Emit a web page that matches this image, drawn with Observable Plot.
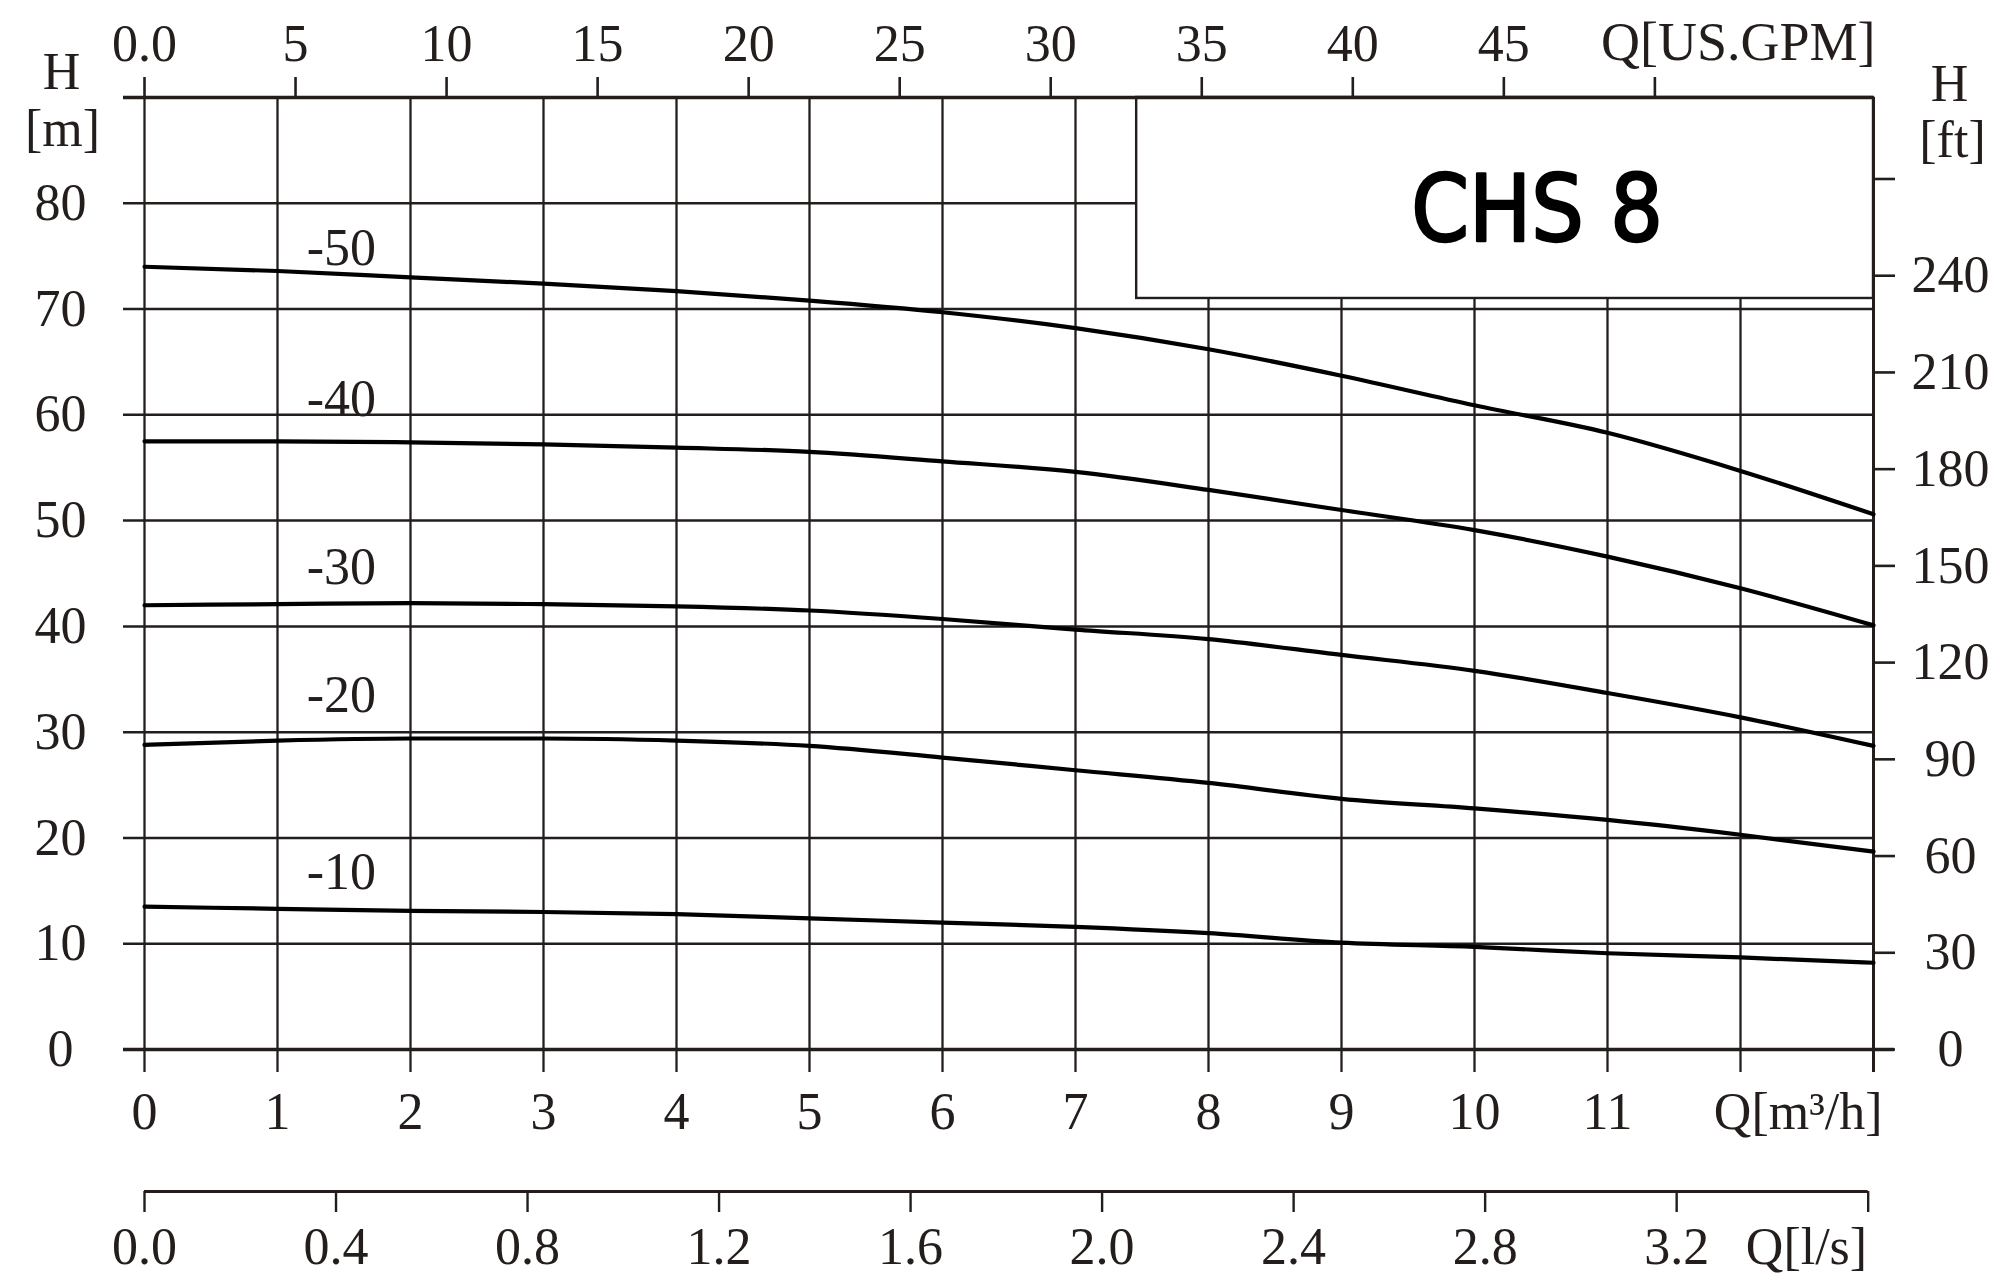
<!DOCTYPE html>
<html>
<head>
<meta charset="utf-8">
<script src="https://cdn.jsdelivr.net/npm/d3@7"></script>
<script src="https://cdn.jsdelivr.net/npm/@observablehq/plot@0.6"></script>
<style>
  html, body { margin: 0; padding: 0; background: #fff; overflow: hidden; }
  #chart svg { display: block; }
</style>
</head>
<body>
<div id="chart"></div>
<script>
// ---- data ----
const flowM3h = [0, 1, 2, 3, 4, 5, 6, 7, 8, 9, 10, 11, 12, 13];
const curveNames = ["-50", "-40", "-30", "-20", "-10"];
const head50 = [74.0, 73.6, 73.0, 72.4, 71.7, 70.8, 69.7, 68.2, 66.2, 63.7, 60.9, 58.3, 54.7, 50.6];
const head40 = [57.5, 57.5, 57.4, 57.2, 56.9, 56.5, 55.6, 54.6, 52.9, 51.0, 49.1, 46.6, 43.6, 40.1];
const head30 = [42.0, 42.1, 42.2, 42.1, 41.9, 41.5, 40.7, 39.7, 38.8, 37.3, 35.8, 33.7, 31.4, 28.7];
const head20 = [28.8, 29.2, 29.4, 29.4, 29.2, 28.7, 27.6, 26.4, 25.2, 23.7, 22.8, 21.7, 20.3, 18.7];
const head10 = [13.5, 13.3, 13.1, 13.0, 12.8, 12.4, 12.0, 11.6, 11.0, 10.1, 9.7, 9.1, 8.7, 8.2];
const curveLabelHead = [75.7, 61.5, 45.6, 33.5, 16.7];

const xTickLabels = ["0", "1", "2", "3", "4", "5", "6", "7", "8", "9", "10", "11"];
const yTicksM = [0, 10, 20, 30, 40, 50, 60, 70, 80];
const ftTicks = [0, 30, 60, 90, 120, 150, 180, 210, 240, 270];
const ftTickLabels = ["0", "30", "60", "90", "120", "150", "180", "210", "240", ""];
const gpmTicks = [0, 5, 10, 15, 20, 25, 30, 35, 40, 45, 50];
const gpmTickLabels = ["0.0", "5", "10", "15", "20", "25", "30", "35", "40", "45", ""];
const lsTicks = [0, 0.4, 0.8, 1.2, 1.6, 2.0, 2.4, 2.8, 3.2, 3.6];
const lsTickLabels = ["0.0", "0.4", "0.8", "1.2", "1.6", "2.0", "2.4", "2.8", "3.2", ""];
const title = "CHS 8";

// unit conversions
const GPM = 0.227125;   // m3/h per US gpm
const LS = 3.6;         // m3/h per l/s
const FT = 0.3048;      // m per ft

// ---- build tidy table ----
const heads = [head50, head40, head30, head20, head10];
const rows = [];
curveNames.forEach((name, k) => flowM3h.forEach((q, i) => rows.push({name, q, h: heads[k][i]})));
const labelRows = curveNames.map((name, k) => ({name, h: curveLabelHead[k]}));

// ---- layout/styles ----
const ink = "#231e1c";
const serif = "'Liberation Serif', 'Times New Roman', Times, serif";
const fs = 52;
const xMax = 13, yMax = 90;
const box = {x1: 7.46, x2: 13, y1: 71.0, y2: 90};

const chart = Plot.plot({
  width: 1995,
  height: 1274,
  marginLeft: 144,
  marginRight: 122,
  marginTop: 97,
  marginBottom: 225,
  x: {domain: [0, xMax], axis: null},
  y: {domain: [0, yMax], axis: null},
  style: {background: "#fff"},
  marks: [
    // vertical grid (extends below the zero line as ticks)
    Plot.ruleX(flowM3h, {x: d => d, y1: yMax, y2: 0, insetBottom: -23, stroke: ink, strokeWidth: 2.3}),
    // horizontal grid (extends left as ticks)
    Plot.ruleY(yTicksM.filter(d => d > 0), {y: d => d, x1: 0, x2: xMax, insetLeft: -21, stroke: ink, strokeWidth: 2.5}),
    // title box
    Plot.rect([box], {x1: "x1", x2: "x2", y1: "y1", y2: "y2", fill: "#fff", stroke: ink, strokeWidth: 2.4}),
    Plot.text([title], {x: 10.47, y: 79.25, text: d => d, fontFamily: "'DejaVu Sans Condensed', 'DejaVu Sans', sans-serif",
      fontSize: 92, fill: "#000", stroke: "#000", strokeWidth: 2.4}),
    // zero line and top line
    Plot.ruleY([0], {x1: 0, x2: xMax, insetLeft: -21, insetRight: -21, stroke: ink, strokeWidth: 3.4}),
    Plot.ruleY([yMax], {x1: 0, x2: xMax, insetLeft: -21, stroke: ink, strokeWidth: 3.4}),
    // right axis line
    Plot.ruleX([xMax], {y1: yMax, y2: 0, insetBottom: -23, stroke: ink, strokeWidth: 3}),
    // top GPM ticks
    Plot.ruleX(gpmTicks, {x: d => d * GPM, y1: yMax, y2: yMax, insetTop: -20, stroke: ink, strokeWidth: 2.6}),
    // right ft ticks
    Plot.ruleY(ftTicks, {y: d => d * FT, x1: xMax, x2: xMax, insetRight: -22, stroke: ink, strokeWidth: 2.6}),
    // l/s axis
    Plot.ruleY([0], {x1: 0, x2: 3.6 * LS, dy: 142, stroke: ink, strokeWidth: 3}),
    Plot.ruleX(lsTicks, {x: d => d * LS, y1: 0, y2: 0, dy: 142, insetBottom: -21, stroke: ink, strokeWidth: 2.4}),
    // curves
    Plot.line(rows, {x: "q", y: "h", z: "name", curve: "monotone-x", stroke: "#000", strokeWidth: 4.2}),
    Plot.text(labelRows, {x: 1.48, y: "h", text: "name", fontFamily: serif, fontSize: fs, fill: ink}),
    // left tick labels
    Plot.text(yTicksM, {x: 0, y: d => d, dx: -84, text: d => String(d), fontFamily: serif, fontSize: fs, fill: ink}),
    Plot.text(["H"], {x: 0, y: yMax, dx: -83, dy: -25, text: d => d, fontFamily: serif, fontSize: fs, fill: ink}),
    Plot.text(["[m]"], {x: 0, y: yMax, dx: -82, dy: 32, text: d => d, fontFamily: serif, fontSize: fs, fill: ink}),
    // right tick labels
    Plot.text(ftTicks, {x: xMax, y: d => d * FT, dx: 77, text: (d, i) => ftTickLabels[i], fontFamily: serif, fontSize: fs, fill: ink}),
    Plot.text(["H"], {x: xMax, y: yMax, dx: 76, dy: -13, text: d => d, fontFamily: serif, fontSize: fs, fill: ink}),
    Plot.text(["[ft]"], {x: xMax, y: yMax, dx: 79, dy: 43, text: d => d, fontFamily: serif, fontSize: fs, fill: ink}),
    // bottom m3/h labels
    Plot.text(xTickLabels, {x: (d, i) => flowM3h[i], y: 0, dy: 63, text: d => d, fontFamily: serif, fontSize: fs, fill: ink}),
    Plot.text(["Q[m³/h]"], {x: xMax, y: 0, dx: 9, dy: 63, text: d => d, textAnchor: "end", fontFamily: serif, fontSize: fs, fill: ink}),
    // top GPM labels
    Plot.text(gpmTicks, {x: d => d * GPM, y: yMax, dy: -53, text: (d, i) => gpmTickLabels[i], fontFamily: serif, fontSize: fs, fill: ink}),
    Plot.text(["Q[US.GPM]"], {x: xMax, y: yMax, dx: 2, dy: -55, text: d => d, textAnchor: "end", fontFamily: serif, fontSize: 54, fill: ink}),
    // l/s labels
    Plot.text(lsTicks, {x: d => d * LS, y: 0, dy: 198, text: (d, i) => lsTickLabels[i], fontFamily: serif, fontSize: fs, fill: ink}),
    Plot.text(["Q[l/s]"], {x: 3.6 * LS, y: 0, dx: -1, dy: 198, text: d => d, textAnchor: "end", fontFamily: serif, fontSize: fs, fill: ink})
  ]
});
document.getElementById("chart").appendChild(chart);
</script>
</body>
</html>
